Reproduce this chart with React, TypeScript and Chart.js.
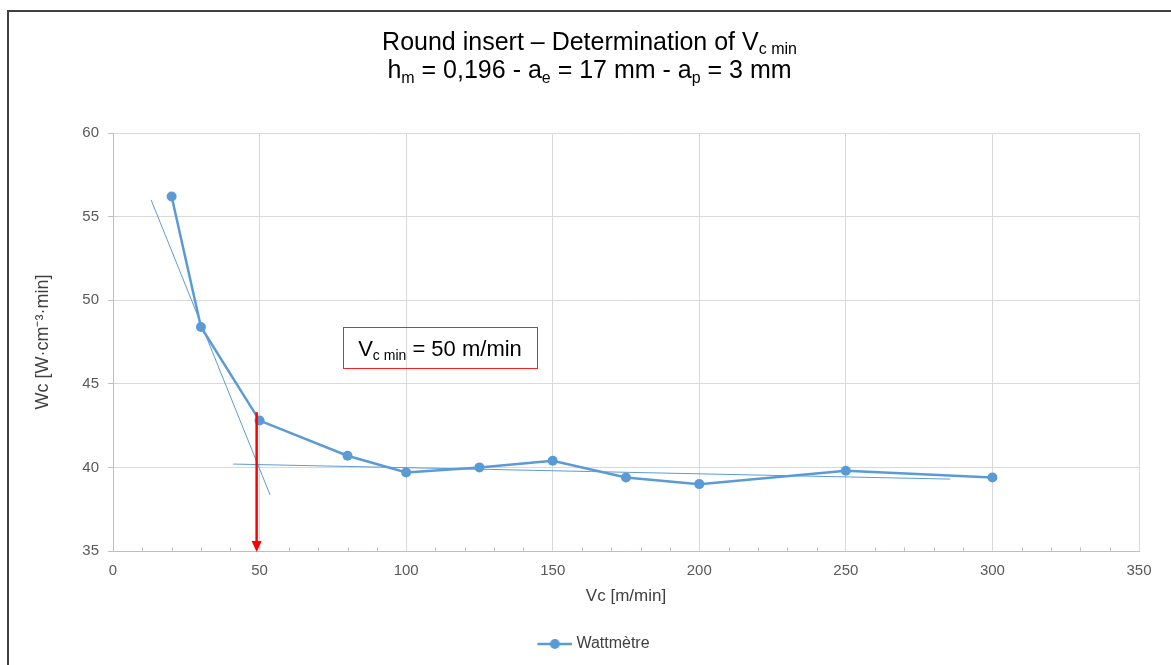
import React, { useEffect, useRef } from "react";
import { Chart, registerables } from "chart.js";

Chart.register(...registerables);

// ---- data ----
const vcValues = [20, 30, 50, 80, 100, 125, 150, 175, 200, 250, 300];
const wcValues = [56.2, 48.4, 42.8, 40.7, 39.7, 40.0, 40.4, 39.4, 39.0, 39.8, 39.4];
const steepTrendX = [13, 53.6];
const steepTrendY = [56.0, 38.35];
const flatTrendX = [41, 285.6];
const flatTrendY = [40.2, 39.3];
const arrowX = [49, 49];
const arrowY = [43.3, 35];
const xMinorStep = 10;
const seriesLabel = "Wattmètre";
const xTitle = "Vc [m/min]";
const yTitle = "Wc [W·cm⁻³·min]";

const FONT = "'Liberation Sans', Arial, sans-serif";
const BLUE = "#5b9bd5";
const GRID = "#d9d9d9";
const AXIS = "#bfbfbf";
const TICK = "#595959";

type Part = { text: string; size: number; dy?: number };

function drawRich(ctx: CanvasRenderingContext2D, parts: Part[], cx: number, baseline: number) {
  let total = 0;
  const widths = parts.map((p) => {
    ctx.font = `${p.size}px ${FONT}`;
    const w = ctx.measureText(p.text).width;
    total += w;
    return w;
  });
  let x = cx - total / 2;
  ctx.textAlign = "left";
  ctx.textBaseline = "alphabetic";
  parts.forEach((p, i) => {
    ctx.font = `${p.size}px ${FONT}`;
    ctx.fillText(p.text, x, baseline + (p.dy || 0));
    x += widths[i];
  });
}

const overlayPlugin = {
  id: "overlay",
  beforeDatasetsDraw(chart: any) {
    const { ctx, scales } = chart;
    const xs = scales.x;
    const ys = scales.y;
    ctx.save();
    ctx.strokeStyle = AXIS;
    ctx.lineWidth = 1;
    const yb = Math.round(ys.getPixelForValue(ys.min)) + 0.5;
    for (let v = xs.min + xMinorStep; v < xs.max; v += xMinorStep) {
      if (v % 50 === 0) continue;
      const px = Math.round(xs.getPixelForValue(v)) + 0.5;
      ctx.beginPath();
      ctx.moveTo(px, yb);
      ctx.lineTo(px, yb - 4);
      ctx.stroke();
    }
    ctx.restore();
  },
  afterDatasetsDraw(chart: any) {
    const { ctx, scales } = chart;
    const xs = scales.x;
    const ys = scales.y;
    ctx.save();
    // red arrow
    const ax = xs.getPixelForValue(arrowX[0]);
    const ay0 = ys.getPixelForValue(arrowY[0]);
    const ay1 = ys.getPixelForValue(arrowY[1]);
    ctx.strokeStyle = "#ff0000";
    ctx.fillStyle = "#ff0000";
    ctx.lineWidth = 2.5;
    ctx.beginPath();
    ctx.moveTo(ax, ay0);
    ctx.lineTo(ax, ay1 - 9);
    ctx.stroke();
    ctx.beginPath();
    ctx.moveTo(ax - 5, ay1 - 10);
    ctx.lineTo(ax + 5, ay1 - 10);
    ctx.lineTo(ax, ay1 + 1);
    ctx.closePath();
    ctx.fill();

    // annotation box
    const bx0 = xs.getPixelForValue(78.5);
    const bx1 = xs.getPixelForValue(144.6);
    const by0 = ys.getPixelForValue(48.37);
    const by1 = ys.getPixelForValue(45.92);
    ctx.strokeStyle = "#ff2020";
    ctx.lineWidth = 1;
    ctx.strokeRect(Math.round(bx0) + 0.5, Math.round(by0) + 0.5, Math.round(bx1 - bx0), Math.round(by1 - by0));
    ctx.fillStyle = "#000000";
    drawRich(
      ctx,
      [
        { text: "V", size: 22 },
        { text: "c min", size: 14, dy: 4 },
        { text: " = 50 m/min", size: 22 },
      ],
      (bx0 + bx1) / 2,
      (by0 + by1) / 2 + 8
    );
    ctx.restore();
  },
  afterDraw(chart: any) {
    const { ctx } = chart;
    ctx.save();
    ctx.fillStyle = "#000000";
    const cx = 589.5;
    drawRich(
      ctx,
      [
        { text: "Round insert – Determination of V", size: 25 },
        { text: "c min", size: 16, dy: 4 },
      ],
      cx,
      50
    );
    drawRich(
      ctx,
      [
        { text: "h", size: 25 },
        { text: "m", size: 16, dy: 5 },
        { text: " = 0,196 - a", size: 25 },
        { text: "e", size: 16, dy: 5 },
        { text: " = 17 mm - a", size: 25 },
        { text: "p", size: 16, dy: 5 },
        { text: " = 3 mm", size: 25 },
      ],
      cx,
      78
    );
    ctx.restore();
  },
};

export default function App() {
  const ref = useRef<HTMLCanvasElement>(null);

  useEffect(() => {
    const canvas = ref.current;
    if (!canvas) return;

    // legend marker (line + dot); drawn offset to the right within a wider transparent image
    const marker = document.createElement("canvas");
    marker.width = 79;
    marker.height = 12;
    const m = marker.getContext("2d")!;
    m.strokeStyle = BLUE;
    m.lineWidth = 2.5;
    m.beginPath();
    m.moveTo(44, 6);
    m.lineTo(79, 6);
    m.stroke();
    m.fillStyle = BLUE;
    m.beginPath();
    m.arc(61.5, 6, 5, 0, Math.PI * 2);
    m.fill();

    const chart = new Chart(canvas, {
      type: "scatter",
      data: {
        datasets: [
          {
            label: seriesLabel,
            data: vcValues.map((x, i) => ({ x, y: wcValues[i] })),
            showLine: true,
            borderColor: BLUE,
            backgroundColor: BLUE,
            borderWidth: 2.5,
            pointRadius: 5,
            pointHoverRadius: 5,
            pointBackgroundColor: BLUE,
            pointBorderWidth: 0,
          },
          {
            label: "trend-steep",
            data: steepTrendX.map((x, i) => ({ x, y: steepTrendY[i] })),
            showLine: true,
            borderColor: BLUE,
            borderWidth: 1,
            pointRadius: 0,
          },
          {
            label: "trend-flat",
            data: flatTrendX.map((x, i) => ({ x, y: flatTrendY[i] })),
            showLine: true,
            borderColor: BLUE,
            borderWidth: 1,
            pointRadius: 0,
          },
        ],
      },
      options: {
        responsive: false,
        animation: false,
        events: [],
        layout: { padding: { left: 8, right: 32, top: 133, bottom: 3 } },
        plugins: {
          title: { display: false },
          tooltip: { enabled: false },
          legend: {
            position: "bottom",
            labels: {
              usePointStyle: true,
              pointStyleWidth: 71,
              padding: 10,
              color: "#404040",
              font: { size: 16, family: FONT },
              generateLabels: () => [
                {
                  text: seriesLabel,
                  fillStyle: BLUE,
                  strokeStyle: BLUE,
                  lineWidth: 0,
                  pointStyle: marker as any,
                  datasetIndex: 0,
                  hidden: false,
                  fontColor: "#404040",
                } as any,
              ],
            },
          },
        },
        scales: {
          x: {
            type: "linear",
            min: 0,
            max: 350,
            ticks: { stepSize: 50, padding: 11, color: TICK, font: { size: 15, family: FONT } },
            grid: { color: GRID, drawTicks: false },
            border: { color: AXIS },
            title: {
              display: true,
              text: xTitle,
              color: "#404040",
              font: { size: 17, family: FONT },
              padding: { top: 0, bottom: 19 },
            },
            afterFit: (s: any) => {
              s.height = 75;
            },
          },
          y: {
            type: "linear",
            min: 35,
            max: 60,
            ticks: { stepSize: 5, padding: 9, color: TICK, font: { size: 15, family: FONT } },
            grid: { color: GRID, tickLength: 5, tickColor: AXIS },
            border: { color: AXIS },
            title: {
              display: true,
              text: yTitle,
              color: "#404040",
              font: { size: 18, family: FONT },
              padding: { top: 24, bottom: 0 },
            },
            afterFit: (s: any) => {
              s.width = 105;
            },
          },
        },
      } as any,
      plugins: [overlayPlugin],
    });

    return () => chart.destroy();
  }, []);

  return (
    <div style={{ position: "fixed", left: 0, top: 0, width: 1171, height: 665, overflow: "hidden", background: "#fff" }}>
      <div
        style={{
          position: "absolute",
          left: 7,
          top: 10,
          width: 1200,
          height: 700,
          borderTop: "2px solid #404040",
          borderLeft: "2px solid #404040",
        }}
      />
      <canvas ref={ref} width={1171} height={665} style={{ position: "absolute", left: 0, top: 0 }} />
    </div>
  );
}
